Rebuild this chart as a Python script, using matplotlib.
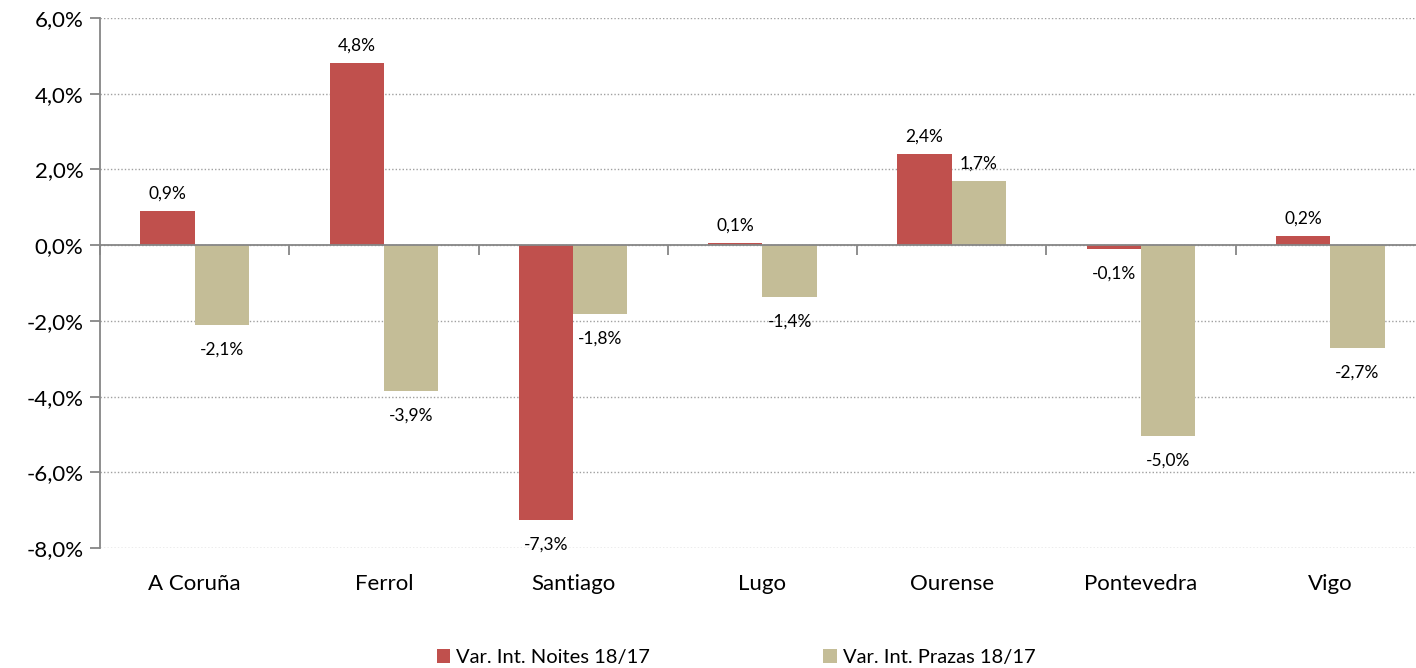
import numpy as np
import matplotlib.pyplot as plt
from matplotlib.ticker import FuncFormatter
from matplotlib.transforms import blended_transform_factory

plt.rcParams['font.family'] = ['Lato', 'DejaVu Sans']

categories = ["A Coruña", "Ferrol", "Santiago", "Lugo", "Ourense", "Pontevedra", "Vigo"]
noites = [0.9, 4.8, -7.26, 0.06, 2.4, -0.1, 0.24]
prazas = [-2.1, -3.86, -1.82, -1.38, 1.69, -5.04, -2.72]
seriesNames = ["Var. Int. Noites 18/17", "Var. Int. Prazas 18/17"]
yTicks = [-8, -6, -4, -2, 0, 2, 4, 6]

red = "#C0504D"
tan = "#C4BD97"
axisGray = "#868686"

def pct(v):
    return ("%.1f%%" % v).replace(".", ",")

fig = plt.figure(figsize=(14.16, 6.68), dpi=100)
# the plot area runs a bit past the right edge of the image, as in the original
ax = fig.add_axes([0.0706, 0.1796, 0.9357, 0.7934])

x = np.arange(len(categories))
w = 0.287

barsN = ax.bar(x - w / 2, noites, w, color=red, label=seriesNames[0], zorder=3)
barsP = ax.bar(x + w / 2, prazas, w, color=tan, label=seriesNames[1], zorder=3)

# outside-end data labels
for bars, vals in [(barsN, noites), (barsP, prazas)]:
    for b, v in zip(bars, vals):
        cx = b.get_x() + b.get_width() / 2
        if v >= 0:
            ax.annotate(pct(v), (cx, v), xytext=(0, 7), textcoords="offset points",
                        ha="center", va="bottom", fontsize=12.5)
        else:
            ax.annotate(pct(v), (cx, v), xytext=(0, -12), textcoords="offset points",
                        ha="center", va="top", fontsize=12.5)

ax.set_ylim(-8, 6)
ax.set_xlim(-0.5, len(categories) - 0.5)
ax.set_yticks(yTicks)
ax.yaxis.set_major_formatter(FuncFormatter(lambda v, p: pct(v)))
ax.tick_params(axis="y", labelsize=16, length=7, width=1.3, color=axisGray, pad=5)
ax.yaxis.grid(True, linestyle=(0, (1, 1.5)), color="#a0a0a0", linewidth=1.0, zorder=0)

# category axis crossing at zero
ax.spines["bottom"].set_position(("data", 0))
ax.spines["bottom"].set_color(axisGray)
ax.spines["bottom"].set_linewidth(1.3)
ax.spines["bottom"].set_zorder(4)
ax.set_xticks(np.arange(len(categories) + 1) - 0.5)
ax.set_xticklabels([])
ax.tick_params(axis="x", length=7, width=1.3, color=axisGray)
ax.spines["left"].set_color(axisGray)
ax.spines["left"].set_linewidth(1.3)
ax.spines["top"].set_visible(False)
ax.spines["right"].set_visible(False)

trans = blended_transform_factory(ax.transData, ax.transAxes)
for xi, name in zip(x, categories):
    ax.text(xi, -0.068, name, transform=trans, ha="center", va="center", fontsize=16)

fig.legend(loc="lower left", bbox_to_anchor=(0.296, -0.024), ncol=2, frameon=False,
           fontsize=14.5, handlelength=0.65, handleheight=0.65, handletextpad=0.3,
           columnspacing=8.6)

fig.savefig("out.png", dpi=100)
